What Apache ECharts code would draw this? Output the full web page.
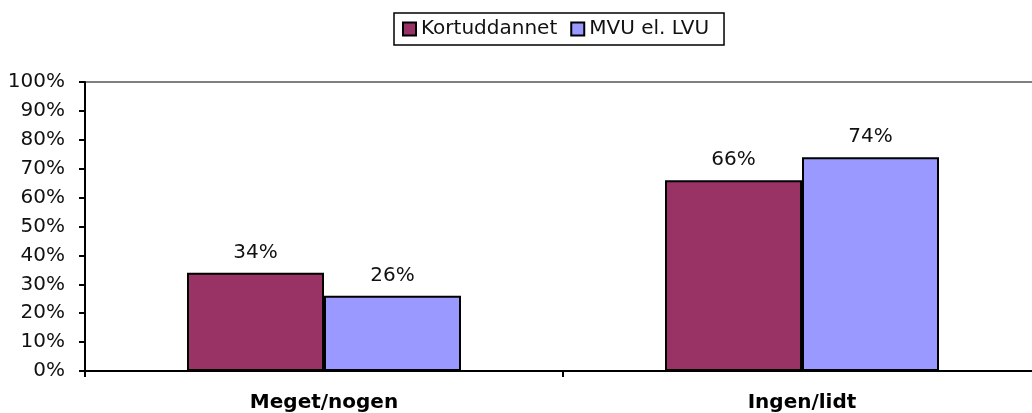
<!DOCTYPE html>
<html>
<head>
<meta charset="utf-8">
<script src="https://cdn.jsdelivr.net/npm/echarts@6/dist/echarts.min.js"></script>
<style>
  html, body { margin: 0; padding: 0; background: #fff; overflow: hidden; }
  #chart { width: 1041px; height: 413px; }
</style>
</head>
<body>
<div id="chart"></div>
<script>
const categories = ['Meget/nogen', 'Ingen/lidt'];
const seriesNames = ['Kortuddannet', 'MVU el. LVU'];
const kortuddannet = [34, 66];
const mvuLvu = [26, 74];
const yTicks = [0, 10, 20, 30, 40, 50, 60, 70, 80, 90, 100];

const font = 'Verdana, "DejaVu Sans", sans-serif';
const colors = ['#993366', '#9999FF'];

function barSeries(name, data, color) {
  return {
    name: name,
    type: 'bar',
    data: data,
    barWidth: 137,
    barGap: 0,
    itemStyle: { color: color, borderColor: '#000', borderWidth: 2 },
    label: {
      show: true,
      position: 'top',
      distance: 10,
      color: '#111',
      fontFamily: font,
      fontSize: 20,
      formatter: p => p.value + '%'
    }
  };
}

const chart = echarts.init(document.getElementById('chart'));
chart.setOption({
  animation: false,
  backgroundColor: '#fff',
  legend: {
    top: 13,
    left: 394,
    data: seriesNames,
    itemWidth: 13,
    itemHeight: 13,
    itemGap: 13,
    padding: [6, 15, 6, 8],
    borderColor: '#000',
    borderWidth: 1.5,
    icon: 'rect',
    itemStyle: { borderColor: '#000', borderWidth: 2 },
    textStyle: { fontFamily: font, fontSize: 20, color: '#111' }
  },
  grid: {
    left: 85,
    right: 0,
    top: 82,
    bottom: 42,
    show: true,
    borderColor: '#808080',
    borderWidth: 2
  },
  xAxis: {
    type: 'category',
    data: categories,
    axisLine: { lineStyle: { color: '#000', width: 2 } },
    axisTick: { show: true, length: 6, lineStyle: { color: '#000', width: 2 } },
    axisLabel: {
      color: '#000',
      fontFamily: font,
      fontSize: 20,
      fontWeight: 'bold',
      margin: 22
    }
  },
  yAxis: {
    type: 'value',
    min: yTicks[0],
    max: yTicks[yTicks.length - 1],
    interval: yTicks[1] - yTicks[0],
    axisLine: { show: true, lineStyle: { color: '#000', width: 2 } },
    axisTick: { show: true, length: 6, lineStyle: { color: '#000', width: 2 } },
    splitLine: { show: false },
    axisLabel: {
      color: '#111',
      fontFamily: font,
      fontSize: 20,
      margin: 20,
      formatter: v => v + '%'
    }
  },
  series: [
    barSeries(seriesNames[0], kortuddannet, colors[0]),
    barSeries(seriesNames[1], mvuLvu, colors[1])
  ]
});
</script>
</body>
</html>
